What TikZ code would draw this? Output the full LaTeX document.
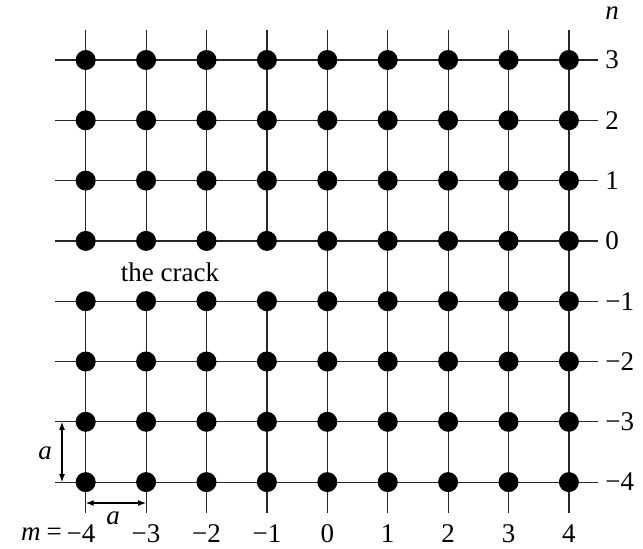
\documentclass[tikz,border=0pt]{standalone}
\usepackage{fontspec}
\setmainfont{Liberation Serif}
\usetikzlibrary{arrows.meta,backgrounds}
\begin{document}
\begin{tikzpicture}[x=0.5pt,y=-0.5pt,
  dot/.style={circle,fill=black,inner sep=0pt,minimum size=10pt},
  gridline/.style={line width=0.6pt,black!85},
  lab/.style={font=\fontsize{13.5}{15}\selectfont,inner sep=0pt},
  dimarrow/.style={line width=0.6pt,{Latex[length=4pt,width=3pt]}-{Latex[length=4pt,width=3pt]}}]
\useasboundingbox (0,0) rectangle (643,548);
% lattice points
\foreach \i in {0,...,8} {
  \foreach \j in {0,...,7} {
    \node[dot] (p\i\j) at ({85.7+60.4*\i},{60+60.3*\j}) {};
  }
  \coordinate (vt\i) at ({85.7+60.4*\i},30);
  \coordinate (vb\i) at ({85.7+60.4*\i},513);
}
\foreach \j in {0,...,7} {
  \coordinate (hl\j) at (55,{60+60.3*\j});
  \coordinate (hr\j) at (598,{60+60.3*\j});
}
\begin{scope}[on background layer]
  \foreach \j in {0,...,7} { \draw[gridline] (hl\j) -- (hr\j); }
  \foreach \i in {4,...,8} { \draw[gridline] (vt\i) -- (vb\i); }
  \foreach \i in {0,...,3} {
    \draw[gridline] (vt\i) -- (p\i3.center);
    \draw[gridline] (p\i4.center) -- (vb\i);
  }
\end{scope}
% row labels
\node[lab,anchor=west] (r0) at (605,{60+60.3*0}) {3};
\node[lab,anchor=west] (r1) at (605,{60+60.3*1}) {2};
\node[lab,anchor=west] (r2) at (605,{60+60.3*2}) {1};
\node[lab,anchor=west] (r3) at (605,{60+60.3*3}) {0};
\node[lab,anchor=west] (r4) at (605,{60+60.3*4}) {−1};
\node[lab,anchor=west] (r5) at (605,{60+60.3*5}) {−2};
\node[lab,anchor=west] (r6) at (605,{60+60.3*6}) {−3};
\node[lab,anchor=west] (r7) at (605,{60+60.3*7}) {−4};
\node[lab] (nlab) at (612,13) {\textit{n}};
% column labels
\node[lab] (c0) at (81,534) {−4};
\node[lab,anchor=east] (mlab) at ([xshift=-2pt]c0.west) {\textit{m}\hspace{3pt}=};
\node[lab] (c1) at ({85.7+60.4*1},534) {−3};
\node[lab] (c2) at ({85.7+60.4*2},534) {−2};
\node[lab] (c3) at ({85.7+60.4*3},534) {−1};
\node[lab] (c4) at ({85.7+60.4*4},534) {0};
\node[lab] (c5) at ({85.7+60.4*5},534) {1};
\node[lab] (c6) at ({85.7+60.4*6},534) {2};
\node[lab] (c7) at ({85.7+60.4*7},534) {3};
\node[lab] (c8) at ({85.7+60.4*8},534) {4};
% crack label
\node[lab] (crack) at (170,272) {the crack};
% dimension arrows
\coordinate (da1) at (62,{60+60.3*6});
\coordinate (da2) at (62,{60+60.3*7});
\draw[dimarrow] (da1) -- (da2);
\node[lab] (alab1) at (45,453) {\textit{a}};
\coordinate (db1) at (85.7,503);
\coordinate (db2) at (146.1,503);
\draw[dimarrow] (db1) -- (db2);
\node[lab] (alab2) at (113,518) {\textit{a}};
\end{tikzpicture}
\end{document}
